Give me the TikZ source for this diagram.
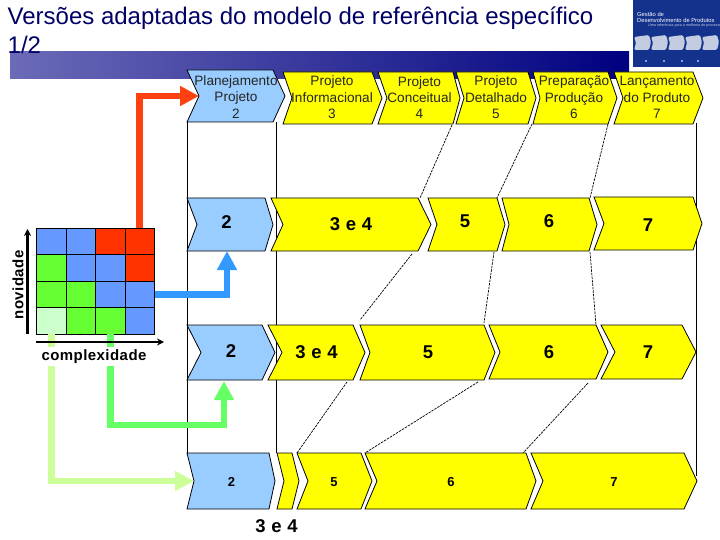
\documentclass[tikz,border=0pt]{standalone}
\usepackage{fontspec}
\usepackage{xcolor}
\usepackage{tikz}
\usetikzlibrary{arrows.meta, positioning, calc}
\setmainfont{Liberation Sans}
\definecolor{cTitle}{RGB}{0,0,102}
\definecolor{cBar}{RGB}{0,0,128}
\definecolor{cBarL}{RGB}{107,107,184}
\definecolor{cLogo}{RGB}{20,50,140}
\definecolor{cPlan}{RGB}{153,204,255}
\definecolor{cYel}{RGB}{255,255,0}
\definecolor{cBlue}{RGB}{102,153,255}
\definecolor{cRed}{RGB}{255,51,0}
\definecolor{cGrn}{RGB}{102,255,51}
\definecolor{cPale}{RGB}{204,255,204}
\definecolor{aRed}{RGB}{255,64,16}
\definecolor{aBlue}{RGB}{51,153,255}
\definecolor{aGrn}{RGB}{102,255,102}
\definecolor{aPale}{RGB}{204,255,153}
\tikzset{
	cellbox/.style  ={rectangle, draw=black, thick, minimum width=29.5pt, minimum height=26.5pt, inner sep=0pt},
	axisline/.style ={-{Stealth[length=7pt,width=7pt]}, line width=2.6pt},
	bigarrow/.style ={-{Triangle[length=19pt,width=19pt]}, line width=6.7pt},
	stagelbl/.style ={font=\fontsize{13.6}{16.4}\selectfont, align=center, text=black!85, inner sep=0pt},
	numlbl/.style   ={font=\fontsize{18.5}{20}\selectfont\bfseries\addfontfeature{LetterSpace=3}, inner sep=0pt},
	smalllbl/.style ={font=\fontsize{13}{15}\selectfont\bfseries, inner sep=0pt},
	axislbl/.style  ={font=\fontsize{15}{17}\selectfont\bfseries\addfontfeature{LetterSpace=3}, inner sep=0pt},
	gateline/.style ={line width=0.7pt, dash pattern=on 2.5pt off 1pt},
	border/.style   ={line width=0.8pt},
	logotxt/.style  ={text=white, inner sep=0pt, anchor=west},
}
% name, left, notch, body end, tip, top, bottom, fill
\newcommand{\chevron}[8]{
	\draw[line width=0.8pt, fill=#8] (#2,#6) -- (#4,#6) -- (#5,{(#6+#7)/2}) -- (#4,#7) -- (#2,#7) -- (#3,{(#6+#7)/2}) -- cycle;
	\coordinate (#1w) at (#3,{(#6+#7)/2});
}
\begin{document}
\begin{tikzpicture}[x=1pt, y=-1pt]
	\useasboundingbox (0,0) rectangle (720,540);
	\fill[white] (0,0) rectangle (720,540);
	% top bar and logo
	\shade[left color=cBarL, right color=cBar] (10,52) rectangle (629,79);
	\fill[cLogo] (633,0) rectangle (720,67);
	\node[logotxt, font=\fontsize{5.8}{6}\selectfont, align=left] (logoname) at (637,17.5) {Gestão de\\Desenvolvimento de Produtos};
	\node[logotxt, font=\fontsize{3.7}{4}\selectfont, text=white!75!cLogo] (logosub) at (648,25.5) {Uma referência para a melhoria do processo};
	\foreach \lx in {634,651,668,685,702}
		\fill[white!75!cLogo, rounded corners=1.5pt] (\lx,37) -- (\lx+15,35) -- (\lx+17,42) -- (\lx+15,50) -- (\lx,50) -- (\lx+2,43) -- cycle;
	\foreach \lx in {646,664,682,698}
		\fill[white!70!cLogo] (\lx,61) circle (1.1pt);
	\node[font=\fontsize{24}{29}\selectfont, text=cTitle, align=left, anchor=north west, inner sep=0pt] (title) at (7.5,7) {Versões adaptadas do modelo de referência específico\\1/2};
	% borders
	\coordinate (bla) at (187,122);
	\coordinate (blb) at (187,453);
	\coordinate (bma) at (276.5,122);
	\coordinate (bmb) at (276.5,453);
	\coordinate (bra) at (696.5,123);
	\coordinate (brb) at (696.5,476);
	\draw[border] (bla) -- (blb);
	\draw[border] (bma) -- (bmb);
	\draw[border] (bra) -- (brb);
	% gates
	\coordinate (ga1) at (452,125); \coordinate (ga2) at (420,198);
	\coordinate (ga3) at (412,254); \coordinate (ga4) at (360,320);
	\coordinate (ga5) at (347,382); \coordinate (ga6) at (297,453);
	\coordinate (gb1) at (532,124); \coordinate (gb2) at (497,198);
	\coordinate (gb3) at (494,252); \coordinate (gb4) at (484,323);
	\coordinate (gb5) at (478,382); \coordinate (gb6) at (365,453);
	\coordinate (gc1) at (608,124); \coordinate (gc2) at (590,198);
	\coordinate (gc3) at (590,252); \coordinate (gc4) at (596,325);
	\coordinate (gc5) at (588,383); \coordinate (gc6) at (523,453);
	\foreach \g in {a,b,c} {
		\draw[gateline] (g\g1) -- (g\g2);
		\draw[gateline] (g\g3) -- (g\g4);
		\draw[gateline] (g\g5) -- (g\g6);
	}
	% header row
	\chevron{pl}{187}{199}{273}{285}{70}{122}{cPlan}
	\chevron{pi}{283}{292}{372}{382}{72}{124}{cYel}
	\chevron{pc}{378}{387}{453}{460}{72}{124}{cYel}
	\chevron{pd}{456}{464}{528}{536}{72}{124}{cYel}
	\chevron{pp}{533}{540}{608}{617}{72}{124}{cYel}
	\chevron{pl7}{614}{623}{693}{703}{72}{124}{cYel}
	\node[stagelbl] (plt) at (236,97) {Planejamento\\Projeto\\2};
	\node[stagelbl] (pit) at (332,97.5) {Projeto\\Informacional\\3};
	\node[stagelbl] (pct) at (419.5,97.5) {Projeto\\Conceitual\\4};
	\node[stagelbl] (pdt) at (496,97.5) {Projeto\\Detalhado\\5};
	\node[stagelbl] (ppt) at (574,97.5) {Preparação\\Produção\\6};
	\node[stagelbl] (pl7t) at (657,97.5) {Lançamento\\do Produto\\7};
	% second row
	\chevron{ra}{187}{197}{265}{273}{198}{251}{cPlan}
	\chevron{rb}{271}{283}{418}{431}{198}{251}{cYel}
	\chevron{rc}{428}{437}{497}{505}{198}{251}{cYel}
	\chevron{rd}{502}{509}{589}{597}{198}{251}{cYel}
	\chevron{re}{594}{604}{693}{702}{197}{250}{cYel}
	\node[numlbl] (rat) at (226.5,222) {2};
	\node[numlbl] (rbt) at (351,224.5) {3 e 4};
	\node[numlbl] (rct) at (465,221) {5};
	\node[numlbl] (rdt) at (549,221) {6};
	\node[numlbl] (ret) at (648,225) {7};
	% third row
	\chevron{sa}{187}{201}{262}{275}{325}{380}{cPlan}
	\chevron{sb}{268}{282}{353}{365}{325}{380}{cYel}
	\chevron{sc}{360}{370}{484}{495}{325}{380}{cYel}
	\chevron{sd}{489}{500}{596}{608}{325}{379}{cYel}
	\chevron{se}{601}{615}{682}{696}{325}{379}{cYel}
	\node[numlbl] (sat) at (231,351.5) {2};
	\node[numlbl] (sbt) at (316.5,352) {3 e 4};
	\node[numlbl] (sct) at (428,352.5) {5};
	\node[numlbl] (sdt) at (549,352.5) {6};
	\node[numlbl] (set) at (648,352.5) {7};
	% fourth row
	\chevron{ta}{187}{194}{269}{275}{453}{509}{cPlan}
	\chevron{tb}{277}{284}{292}{299}{453}{509}{cYel}
	\chevron{tc}{297}{308}{361}{372}{453}{509}{cYel}
	\chevron{td}{365}{377}{526}{536}{453}{509}{cYel}
	\chevron{te}{531}{543}{684}{697}{453}{509}{cYel}
	\node[smalllbl] (tat) at (231.5,482) {2};
	\node[smalllbl] (tct) at (334,482) {5};
	\node[smalllbl] (tdt) at (451,482) {6};
	\node[smalllbl] (tet) at (614,482) {7};
	\node[numlbl] (tbt) at (276.5,526.5) {3 e 4};
	% matrix
	\foreach \col/\row/\cc in {1/1/cBlue,2/1/cBlue,3/1/cRed,4/1/cRed,
	                           1/2/cGrn,2/2/cBlue,3/2/cBlue,4/2/cRed,
	                           1/3/cGrn,2/3/cGrn,3/3/cBlue,4/3/cBlue,
	                           1/4/cPale,2/4/cGrn,3/4/cGrn,4/4/cBlue}
		\node[cellbox, fill=\cc] (m\row\col) at ({36.5+29.5*(\col-0.5)},{228+26.5*(\row-0.5)}) {};
	% arrows out of the matrix
	\coordinate (inb) at (227,251);
	\coordinate (inc) at (224,381);
	\draw[bigarrow, aRed] (m14.north) |- (plw);
	\draw[bigarrow, aBlue] (m34.east) -| (inb);
	\draw[bigarrow, aGrn] (m43.south) |- ($(inc)+(0,44)$) -- (inc);
	\draw[bigarrow, aPale] (m41.south) |- (taw);
	% axes
	\coordinate (ax0) at (36,342);
	\coordinate (ax1) at (164,342);
	\coordinate (ay0) at (27.5,334);
	\coordinate (ay1) at (27.5,229);
	\draw[axisline] (ax0) -- (ax1);
	\draw[axisline] (ay0) -- (ay1);
	\node[axislbl, fill=white, inner ysep=3pt, inner xsep=1pt] (complexidade) at (94,356.5) {complexidade};
	\node[axislbl, rotate=90] (novidade) at (18,285) {novidade};
\end{tikzpicture}
\end{document}
